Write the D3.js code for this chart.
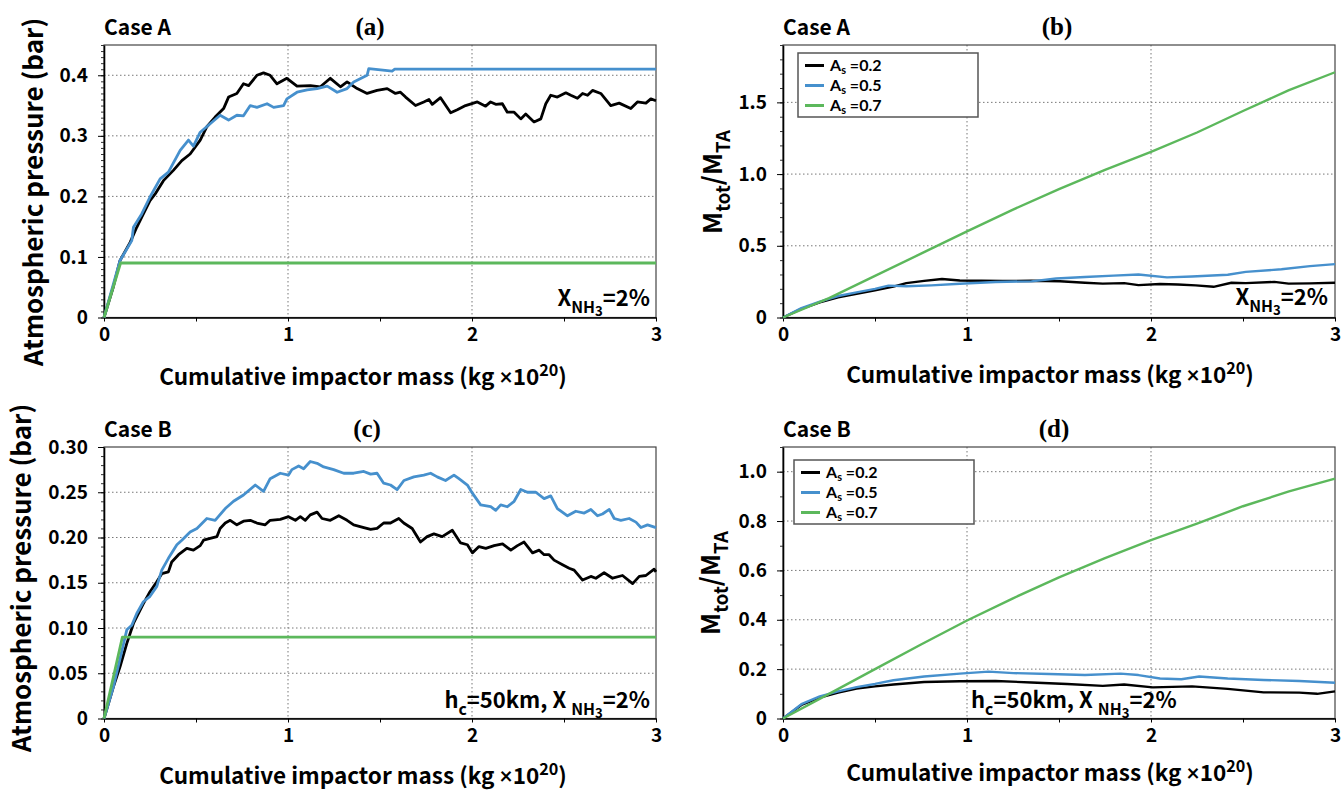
<!DOCTYPE html>
<html><head><meta charset="utf-8">
<script src="https://cdn.jsdelivr.net/npm/d3@7"></script>
<style>
body{margin:0;background:#fff;}
svg{display:block;}
</style></head><body>
<svg id="chart" width="1341" height="792"></svg>
<script>
// ---------- DATA ----------
const xTickValues = [0, 1, 2, 3];
const xTickLabels = ["0", "1", "2", "3"];

const yTicksA = [0, 0.1, 0.2, 0.3, 0.4];
const yTickLabelsA = ["0", "0.1", "0.2", "0.3", "0.4"];
const yTicksB = [0, 0.5, 1.0, 1.5];
const yTickLabelsB = ["0", "0.5", "1.0", "1.5"];
const yTicksC = [0, 0.05, 0.10, 0.15, 0.20, 0.25, 0.30];
const yTickLabelsC = ["0", "0.05", "0.10", "0.15", "0.20", "0.25", "0.30"];
const yTicksD = [0, 0.2, 0.4, 0.6, 0.8, 1.0];
const yTickLabelsD = ["0", "0.2", "0.4", "0.6", "0.8", "1.0"];

const seriesNames = ["0.2", "0.5", "0.7"];

// (a) Case A, atmospheric pressure (bar)
const pressureA_As02 = [[0,0],[0.05,0.05],[0.087,0.094],[0.142,0.124],[0.178,0.149],[0.214,0.171],[0.25,0.193],[0.278,0.204],[0.323,0.226],[0.377,0.243],[0.423,0.259],[0.468,0.270],[0.523,0.293],[0.559,0.315],[0.604,0.331],[0.65,0.345],[0.677,0.364],[0.722,0.37],[0.758,0.386],[0.786,0.383],[0.831,0.4],[0.867,0.404],[0.903,0.4],[0.94,0.386],[0.994,0.395],[1.049,0.382],[1.122,0.383],[1.176,0.381],[1.23,0.395],[1.285,0.381],[1.321,0.389],[1.376,0.378],[1.43,0.37],[1.484,0.375],[1.539,0.378],[1.584,0.37],[1.611,0.372],[1.639,0.364],[1.693,0.35],[1.738,0.356],[1.766,0.36],[1.784,0.352],[1.829,0.363],[1.884,0.338],[1.92,0.343],[1.965,0.35],[2.029,0.356],[2.074,0.349],[2.101,0.356],[2.129,0.352],[2.165,0.353],[2.192,0.339],[2.229,0.339],[2.265,0.328],[2.292,0.336],[2.337,0.323],[2.374,0.328],[2.401,0.353],[2.428,0.367],[2.464,0.364],[2.51,0.371],[2.537,0.367],[2.573,0.362],[2.601,0.37],[2.628,0.367],[2.655,0.375],[2.7,0.37],[2.754,0.35],[2.8,0.354],[2.863,0.345],[2.899,0.356],[2.945,0.354],[2.972,0.361],[3,0.358]];
const pressureA_As05 = [[0,0],[0.087,0.094],[0.151,0.127],[0.16,0.149],[0.205,0.171],[0.25,0.199],[0.305,0.229],[0.35,0.24],[0.414,0.276],[0.459,0.293],[0.486,0.283],[0.523,0.306],[0.577,0.32],[0.631,0.334],[0.677,0.326],[0.722,0.334],[0.758,0.333],[0.795,0.35],[0.831,0.347],[0.886,0.353],[0.922,0.347],[0.976,0.35],[0.994,0.361],[1.049,0.372],[1.104,0.376],[1.158,0.378],[1.213,0.382],[1.267,0.372],[1.321,0.378],[1.357,0.389],[1.43,0.4],[1.439,0.411],[1.503,0.409],[1.566,0.407],[1.58,0.41],[3,0.41]];
const pressureA_As07 = [[0,0],[0.09,0.09],[3,0.09]];

// (b) Case A, M_tot/M_TA
const massA_As02 = [[0,0],[0.1,0.06],[0.2,0.105],[0.3,0.14],[0.4,0.165],[0.5,0.19],[0.6,0.215],[0.67,0.24],[0.767,0.255],[0.864,0.268],[0.961,0.258],[1.078,0.256],[1.194,0.254],[1.35,0.256],[1.505,0.253],[1.641,0.242],[1.738,0.236],[1.854,0.24],[1.932,0.226],[2.049,0.234],[2.146,0.23],[2.243,0.224],[2.34,0.214],[2.437,0.242],[2.515,0.24],[2.67,0.248],[2.748,0.236],[2.864,0.238],[3,0.242]];
const massA_As05 = [[0,0],[0.1,0.065],[0.2,0.11],[0.3,0.15],[0.4,0.175],[0.5,0.2],[0.573,0.222],[0.67,0.218],[0.806,0.224],[0.961,0.235],[1.155,0.248],[1.35,0.252],[1.485,0.272],[1.641,0.282],[1.796,0.292],[1.932,0.3],[2.087,0.28],[2.223,0.286],[2.417,0.298],[2.515,0.318],[2.709,0.336],[2.864,0.358],[3,0.372]];
const massA_As07 = [[0,0],[0.25,0.135],[0.5,0.29],[0.75,0.445],[1.0,0.6],[1.25,0.752],[1.5,0.895],[1.75,1.03],[2.0,1.155],[2.25,1.29],[2.5,1.44],[2.75,1.585],[3,1.71]];

// (c) Case B, atmospheric pressure (bar)
const pressureB_As02 = [[0,0],[0.051,0.035],[0.087,0.057],[0.124,0.083],[0.16,0.105],[0.214,0.127],[0.25,0.14],[0.287,0.151],[0.314,0.16],[0.35,0.162],[0.368,0.173],[0.405,0.181],[0.45,0.188],[0.486,0.186],[0.523,0.191],[0.541,0.197],[0.577,0.199],[0.614,0.201],[0.631,0.21],[0.659,0.216],[0.686,0.219],[0.722,0.214],[0.758,0.218],[0.795,0.219],[0.831,0.216],[0.876,0.214],[0.903,0.219],[0.958,0.22],[1.003,0.223],[1.04,0.219],[1.067,0.223],[1.094,0.219],[1.121,0.225],[1.158,0.228],[1.185,0.221],[1.23,0.219],[1.276,0.224],[1.321,0.219],[1.357,0.214],[1.412,0.211],[1.449,0.209],[1.484,0.21],[1.52,0.216],[1.557,0.216],[1.602,0.221],[1.629,0.216],[1.675,0.21],[1.72,0.195],[1.756,0.201],[1.793,0.204],[1.838,0.201],[1.893,0.208],[1.938,0.194],[1.975,0.192],[2.002,0.183],[2.038,0.19],[2.075,0.188],[2.12,0.191],[2.166,0.193],[2.211,0.186],[2.247,0.191],[2.283,0.195],[2.329,0.183],[2.365,0.186],[2.392,0.181],[2.419,0.181],[2.446,0.175],[2.492,0.17],[2.528,0.166],[2.555,0.164],[2.601,0.153],[2.646,0.157],[2.673,0.155],[2.718,0.161],[2.764,0.155],[2.818,0.158],[2.873,0.149],[2.909,0.157],[2.945,0.158],[2.99,0.165],[3,0.162]];
const pressureB_As05 = [[0,0],[0.051,0.035],[0.124,0.098],[0.151,0.103],[0.178,0.116],[0.214,0.129],[0.25,0.135],[0.287,0.146],[0.314,0.164],[0.35,0.177],[0.396,0.192],[0.423,0.197],[0.468,0.206],[0.505,0.21],[0.559,0.221],[0.604,0.219],[0.659,0.232],[0.704,0.24],[0.758,0.247],[0.822,0.258],[0.867,0.251],[0.903,0.265],[0.958,0.271],[1.003,0.269],[1.021,0.275],[1.058,0.279],[1.085,0.276],[1.121,0.284],[1.158,0.282],[1.194,0.278],[1.248,0.275],[1.303,0.271],[1.357,0.271],[1.412,0.273],[1.449,0.27],[1.484,0.271],[1.52,0.26],[1.557,0.258],[1.593,0.253],[1.63,0.263],[1.684,0.267],[1.738,0.269],[1.775,0.271],[1.811,0.267],[1.856,0.263],[1.902,0.269],[1.929,0.265],[1.975,0.258],[2.002,0.249],[2.047,0.236],[2.102,0.234],[2.129,0.23],[2.156,0.236],[2.192,0.234],[2.229,0.24],[2.265,0.253],[2.301,0.25],[2.347,0.25],[2.392,0.243],[2.428,0.246],[2.464,0.232],[2.519,0.224],[2.564,0.229],[2.61,0.227],[2.646,0.231],[2.682,0.224],[2.709,0.226],[2.746,0.231],[2.773,0.221],[2.809,0.219],[2.854,0.221],[2.891,0.217],[2.918,0.211],[2.954,0.214],[3,0.211]];
const pressureB_As07 = [[0,0],[0.1,0.09],[3,0.09]];

// (d) Case B, M_tot/M_TA
const massB_As02 = [[0,0],[0.1,0.055],[0.2,0.085],[0.3,0.105],[0.4,0.121],[0.5,0.13],[0.6,0.138],[0.767,0.148],[0.961,0.151],[1.155,0.152],[1.35,0.146],[1.544,0.14],[1.738,0.132],[1.854,0.138],[2.01,0.126],[2.223,0.13],[2.417,0.12],[2.612,0.106],[2.806,0.105],[2.903,0.1],[3,0.11]];
const massB_As05 = [[0,0],[0.1,0.058],[0.2,0.09],[0.3,0.11],[0.4,0.127],[0.5,0.14],[0.6,0.155],[0.767,0.17],[0.961,0.182],[1.117,0.19],[1.252,0.184],[1.447,0.18],[1.641,0.176],[1.835,0.182],[1.932,0.176],[2.049,0.162],[2.165,0.159],[2.262,0.17],[2.417,0.162],[2.612,0.156],[2.806,0.152],[3,0.145]];
const massB_As07 = [[0,0],[0.25,0.1],[0.5,0.2],[0.75,0.3],[1.0,0.397],[1.25,0.487],[1.5,0.572],[1.75,0.65],[2.0,0.723],[2.25,0.79],[2.5,0.86],[2.75,0.92],[3,0.972]];

// ---------- STYLE ----------
const FONT = "'Noto Sans CJK SC', 'Source Sans Pro', Lato, sans-serif";
const SERIF = "'Liberation Serif', 'Times New Roman', serif";
const colors = ["#000000", "#4690cd", "#5cb85c"];
const svg = d3.select("#chart");

function txt(sel, size, fam) {
  return sel.style("font-family", fam || FONT).style("font-weight", "700").style("font-size", size + "px").attr("fill", "#000");
}

// rich text helper: parts = [[text, level, font?]]; level 0 normal, 1 sub, 2 subsub, -1 super
function rich(sel, parts, base) {
  const off = {0: 0, 1: base * 0.3, 2: base * 0.45, "-1": -base * 0.42};
  const size = {0: base, 1: base * 0.72, 2: base * 0.6, "-1": base * 0.72};
  let prev = 0;
  parts.forEach(([t, lv, fam]) => {
    const ts = sel.append("tspan").attr("dy", off[lv] - off[prev]).style("font-size", size[lv] + "px").text(t);
    if (fam) ts.style("font-family", fam);
    prev = lv;
  });
}

function drawPanel(p) {
  const g = svg.append("g");
  const x = d3.scaleLinear().domain([0, 3]).range([p.left, p.right]);
  const y = d3.scaleLinear().domain(p.yDomain).range([p.bottom, p.top]);

  // grid
  g.selectAll(".gx").data([1, 2]).join("line")
    .attr("x1", d => x(d)).attr("x2", d => x(d)).attr("y1", p.top).attr("y2", p.bottom)
    .attr("stroke", "#777").attr("stroke-width", 1).attr("stroke-dasharray", "1.5,2.5");
  g.selectAll(".gy").data(p.yTicks.filter(v => v > 0 && v < p.yDomain[1] - 1e-9)).join("line")
    .attr("x1", p.left).attr("x2", p.right).attr("y1", d => y(d)).attr("y2", d => y(d))
    .attr("stroke", "#777").attr("stroke-width", 1).attr("stroke-dasharray", "1.5,2.5");

  // frame
  g.append("rect").attr("x", p.left).attr("y", p.top)
    .attr("width", p.right - p.left).attr("height", p.bottom - p.top)
    .attr("fill", "none").attr("stroke", "#444").attr("stroke-width", 1.2);

  // minor y ticks
  const minorY = d3.range(0, p.yDomain[1] + 1e-9, p.yMinor);
  const ayMinor = g.append("g").attr("transform", `translate(${p.left},0)`)
    .call(d3.axisLeft(y).tickValues(minorY).tickSize(3).tickSizeOuter(0).tickFormat(() => ""));
  ayMinor.select(".domain").remove();
  ayMinor.selectAll("line").attr("stroke", "#333");

  // major y axis
  const ay = g.append("g").attr("transform", `translate(${p.left},0)`)
    .call(d3.axisLeft(y).tickValues(p.yTicks).tickSize(6).tickSizeOuter(0).tickPadding(10)
      .tickFormat((d, i) => p.yLabels[i]));
  ay.select(".domain").attr("stroke", "#000").attr("stroke-width", 1.6);
  txt(ay.selectAll("text"), 19);

  // x axis
  const ax = g.append("g").attr("transform", `translate(0,${p.bottom})`)
    .call(d3.axisBottom(x).tickValues(d3.range(0, 3.01, 0.5)).tickSize(4).tickSizeOuter(0)
      .tickPadding(6).tickFormat(d => Number.isInteger(d) ? xTickLabels[xTickValues.indexOf(d)] : ""));
  ax.select(".domain").attr("stroke", "#000").attr("stroke-width", 1.6);
  txt(ax.selectAll("text"), 19);

  // series
  const line = d3.line().x(d => x(d[0])).y(d => y(d[1]));
  p.series.forEach((s, i) => {
    g.append("path").datum(s).attr("d", line).attr("fill", "none")
      .attr("stroke", colors[i]).attr("stroke-width", p.lw).attr("stroke-linejoin", "round");
  });

  // titles
  txt(g.append("text").attr("x", p.left).attr("y", p.top - 10), 21).text(p.caseLabel);
  g.append("text").attr("x", p.tagX).attr("y", p.top - 10).attr("text-anchor", "middle")
    .style("font-family", SERIF).style("font-weight", "700").style("font-size", "25px").text(p.tag);

  // x label
  const xl = txt(g.append("text").attr("x", p.xLabelX).attr("y", p.xLabelY)
    .attr("text-anchor", "middle"), 22.5);
  rich(xl, [["Cumulative impactor mass (kg ", 0], ["\u00d7", 0, "Lato"], ["10", 0], ["20", -1], [")", 0]], 22.5);

  // y label
  const yl = txt(g.append("text").attr("transform", `translate(${p.yLabelX},${p.yLabelY}) rotate(-90)`)
    .attr("text-anchor", "middle"), p.yLabelSize);
  rich(yl, p.yLabelParts, p.yLabelSize);

  // annotation
  const an = txt(g.append("text").attr("x", p.noteX).attr("y", p.noteY)
    .attr("text-anchor", p.noteAnchor), 22);
  rich(an, p.noteParts, 22);

  // legend
  if (p.legend) {
    const L = p.legend;
    g.append("rect").attr("x", L.x).attr("y", L.y).attr("width", L.w).attr("height", L.h)
      .attr("fill", "#fff").attr("stroke", "#555").attr("stroke-width", 1.5);
    seriesNames.forEach((nm, i) => {
      const cy = L.y + 12.5 + i * 20;
      g.append("line").attr("x1", L.x + 7).attr("x2", L.x + 26).attr("y1", cy).attr("y2", cy)
        .attr("stroke", colors[i]).attr("stroke-width", 3);
      const t = txt(g.append("text").attr("x", L.x + 32).attr("y", cy + 5.5), 16, "Lato");
      t.text("A");
      t.append("tspan").attr("dy", 3).style("font-size", "11px").text("s");
      t.append("tspan").attr("dy", -3).text(" =" + nm);
    });
  }
}

const yLabelP = [["Atmospheric pressure (bar)", 0]];
const yLabelM = [["M", 0], ["tot", 1], ["/M", 0], ["TA", 1]];

drawPanel({left: 104, right: 656, top: 45, bottom: 317.5, yDomain: [0, 0.45],
  yTicks: yTicksA, yLabels: yTickLabelsA, yMinor: 0.01,
  series: [pressureA_As02, pressureA_As05, pressureA_As07], lw: 2.8,
  caseLabel: "Case A", tag: "(a)", tagX: 370, xLabelX: 363, xLabelY: 385,
  yLabelX: 43, yLabelY: 192, yLabelSize: 26, yLabelParts: yLabelP,
  noteX: 650, noteY: 306, noteAnchor: "end",
  noteParts: [["X", 0], ["NH", 1], ["3", 2], ["=2%", 0]]});

drawPanel({left: 783, right: 1335, top: 45, bottom: 317.5, yDomain: [0, 1.9],
  yTicks: yTicksB, yLabels: yTickLabelsB, yMinor: 0.1,
  series: [massA_As02, massA_As05, massA_As07], lw: 2.4,
  caseLabel: "Case A", tag: "(b)", tagX: 1057, xLabelX: 1050, xLabelY: 383,
  yLabelX: 722, yLabelY: 182, yLabelSize: 26, yLabelParts: yLabelM,
  noteX: 1328, noteY: 305, noteAnchor: "end",
  noteParts: [["X", 0], ["NH", 1], ["3", 2], ["=2%", 0]],
  legend: {x: 798, y: 53, w: 180, h: 64}});

drawPanel({left: 104, right: 656, top: 447, bottom: 718.5, yDomain: [0, 0.30],
  yTicks: yTicksC, yLabels: yTickLabelsC, yMinor: 0.01,
  series: [pressureB_As02, pressureB_As05, pressureB_As07], lw: 2.8,
  caseLabel: "Case B", tag: "(c)", tagX: 367, xLabelX: 363, xLabelY: 784,
  yLabelX: 31, yLabelY: 578, yLabelSize: 26, yLabelParts: yLabelP,
  noteX: 650, noteY: 708, noteAnchor: "end",
  noteParts: [["h", 0], ["c", 1], ["=50km, X ", 0], ["NH", 1], ["3", 2], ["=2%", 0]]});

drawPanel({left: 783, right: 1335, top: 447, bottom: 718.5, yDomain: [0, 1.1],
  yTicks: yTicksD, yLabels: yTickLabelsD, yMinor: 0.1,
  series: [massB_As02, massB_As05, massB_As07], lw: 2.4,
  caseLabel: "Case B", tag: "(d)", tagX: 1054, xLabelX: 1050, xLabelY: 781,
  yLabelX: 720, yLabelY: 583, yLabelSize: 26, yLabelParts: yLabelM,
  noteX: 971, noteY: 708, noteAnchor: "start",
  noteParts: [["h", 0], ["c", 1], ["=50km, X ", 0], ["NH", 1], ["3", 2], ["=2%", 0]],
  legend: {x: 794, y: 460, w: 180, h: 64}});
</script>
</body></html>
